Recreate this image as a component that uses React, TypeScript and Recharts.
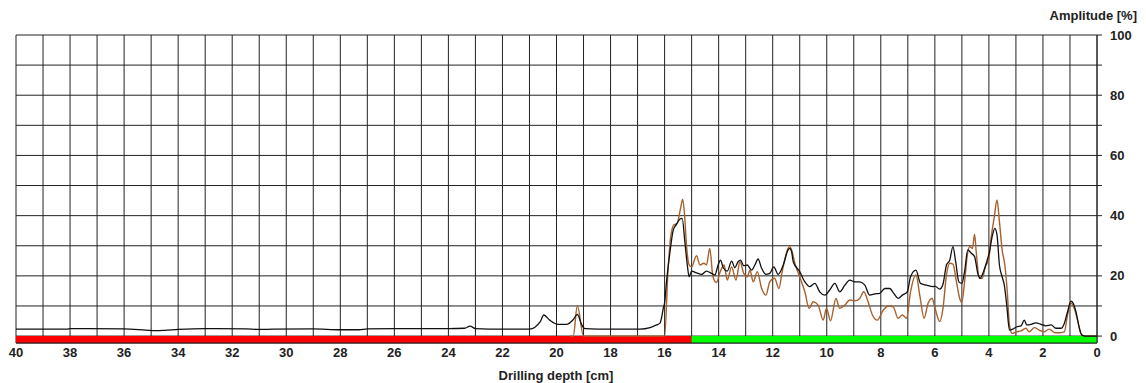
import React from 'react';
import { LineChart, Line, XAxis, YAxis, CartesianGrid, ReferenceArea } from 'recharts';

// depth in cm, amplitude in %
const blackDepth = [40, 38.1, 38, 36, 35.2, 34.8, 34.5, 34, 33, 31.5, 31, 30.5, 29, 28, 27.3, 27, 26, 24, 23.4, 23.2, 23, 22, 21,
  20.6, 20.47, 20.25, 19.94, 19.63, 19.38, 19.23, 19.07, 18.95, 18, 16.91, 16.54, 16.3, 16.17, 16.11, 16.05, 16.0, 15.93, 15.8,
  15.68, 15.56, 15.43, 15.35, 15.25, 15.16, 15.09, 15.0, 14.82, 14.63, 14.45, 14.26, 14.14, 14.02, 13.93, 13.83, 13.68, 13.52,
  13.4, 13.28, 13.19, 13.07, 12.94, 12.78, 12.66, 12.54, 12.41, 12.25, 12.11, 11.96, 11.8, 11.61, 11.43, 11.37, 11.3, 11.24,
  11.0, 10.81, 10.63, 10.44, 10.26, 10.07, 9.89, 9.7, 9.52, 9.33, 9.15, 8.96, 8.78, 8.59, 8.41, 8.22, 8.04, 7.85, 7.67, 7.52,
  7.36, 7.2, 7.02, 6.9, 6.7, 6.53, 6.31, 6.06, 6.0, 5.82, 5.7, 5.57, 5.45, 5.33, 5.23, 5.11, 5.0, 4.9, 4.78, 4.65, 4.53, 4.41,
  4.32, 4.2, 4.08, 3.98, 3.88, 3.78, 3.7, 3.61, 3.51, 3.43, 3.34, 3.24, 3.12, 2.97, 2.81, 2.69, 2.6, 2.44, 2.26, 2.07, 1.89,
  1.7, 1.52, 1.33, 1.21, 1.09, 0.96, 0.88, 0.78, 0.65, 0.56, 0.41, 0];
const blackAmp = [2.3, 2.3, 2.5, 2.4, 2.0, 1.8, 1.9, 2.2, 2.5, 2.4, 2.2, 2.3, 2.4, 2.1, 2.1, 2.4, 2.5, 2.5, 2.6, 3.3, 2.5, 2.3, 2.3,
  4.8, 7.0, 5.3, 3.9, 3.9, 5.5, 7.2, 3.8, 2.5, 2.3, 2.3, 2.8, 3.7, 4.3, 6.2, 9.2, 11, 18, 28,
  35.2, 37.1, 38.9, 39.1, 31.3, 23.6, 19.7, 21.6, 21.0, 20.5, 21.6, 20.8, 20.3, 23.6, 25.2, 22.7, 21.6, 24.9,
  22.7, 24.7, 25.2, 23.4, 23.6, 21.9, 23.6, 25.6, 22.5, 20.5, 20.8, 23.0, 20.5, 23.6, 28.6, 29.1, 28, 24.7,
  21.4, 18.0, 16.4, 17.5, 14.7, 13.6, 15.3, 17.5, 14.7, 16.9, 18.6, 18.0, 18.0, 16.9, 13.6, 14.0, 14.2, 15.8, 15.8, 14.2,
  12.5, 13.6, 14.7, 19.7, 21.9, 17.5, 16.9, 16.4, 16.6, 15.6, 17.2, 23.6, 25.2, 29.7, 24.7, 18.0, 17.5, 21.4, 28.6, 27.5, 26.4, 20.8,
  19.2, 21.4, 24.7, 28.0, 33.0, 35.8, 33.6, 23.6, 19.7, 16.9, 10.3, 2.0, 2.3, 3.1, 3.4, 5.3, 3.7, 3.9, 4.4, 3.9, 3.4,
  3.7, 2.6, 2.6, 4.2, 8.1, 11.6, 10.9, 8.1, 2.6, 0.3, 0, 0];

const brownDepth = [19.5, 19.38, 19.23, 19.0, 16.0, 15.87, 15.78, 15.66, 15.54, 15.41, 15.33, 15.26, 15.19, 15.09, 15.0, 14.82,
  14.69, 14.55, 14.45, 14.33, 14.21, 14.08, 13.95, 13.8, 13.68, 13.52, 13.36, 13.21, 13.07, 12.94, 12.84, 12.72, 12.57, 12.41,
  12.25, 12.11, 11.93, 11.77, 11.65, 11.43, 11.37, 11.3, 11.18, 11.0, 10.81, 10.65, 10.5, 10.32, 10.13, 10.01, 9.86, 9.66,
  9.52, 9.33, 9.15, 8.96, 8.78, 8.63, 8.47, 8.31, 8.13, 7.91, 7.72, 7.54, 7.36, 7.2, 7.05, 6.9, 6.7, 6.55, 6.4, 6.25, 6.1,
  6.0, 5.82, 5.7, 5.57, 5.45, 5.33, 5.2, 5.08, 5.0, 4.9, 4.8, 4.71, 4.61, 4.53, 4.47, 4.35, 4.25, 4.13, 4.0, 3.92, 3.8, 3.7,
  3.61, 3.51, 3.41, 3.32, 3.24, 3.14, 2.99, 2.81, 2.63, 2.51, 2.32, 2.14, 1.96, 1.77, 1.58, 1.4, 1.21, 1.09, 0.96, 0.84,
  0.72, 0.6, 0.47, 0];
const brownAmp = [0, 0, 10.1, 0, 0, 22.5, 32.5, 36.9, 37.4, 42.4, 45.5, 40.2, 30.2, 23.6, 23.0, 26.7,
  23.6, 24.2, 23.6, 29.1, 19.7, 17.8, 21.2, 23.6, 18.6, 23.0, 18.6, 24.7, 20.8, 19.7, 21.9, 18.0, 21.4, 15.8,
  13.6, 18.0, 19.2, 15.8, 21.4, 29.1, 29.7, 28.6, 24.2, 19.7, 14.7, 9.2, 11.4, 10.3, 5.3, 9.2, 5.1, 12.5,
  9.2, 10.3, 12.0, 11.7, 12.5, 14.7, 11.4, 7.0, 5.3, 8.6, 10.0, 9.7, 5.9, 7.0, 5.9, 14.7, 20.3, 13.1, 5.9, 10.9, 12.5,
  9.5, 4.8, 9.2, 20.3, 24.2, 23.9, 18.0, 12.5, 11.2, 18.0, 26.9, 29.7, 29.1, 33.8, 28.0, 19.2, 19.2, 23.0, 25.8, 32.5, 39.6, 45.2,
  38.0, 28.6, 23.6, 14.7, 3.7, 0.9, 1.4, 1.7, 2.6, 1.4, 2.8, 2.0, 1.4, 2.3, 1.2, 1.1, 1.4, 7.0, 10.9, 9.2,
  5.3, 0.9, 0, 0];

const xTicks = Array.from({ length: 41 }, (_, i) => i);
const yTicks = [0, 10, 20, 30, 40, 50, 60, 70, 80, 90, 100];

const blackData = blackDepth.map((d, i) => ({ depth: d, amp: blackAmp[i] }));
const brownData = brownDepth.map((d, i) => ({ depth: d, amp: brownAmp[i] }));

const font = 'Arial, "Liberation Sans", sans-serif';

export default function App() {
  return (
    <div style={{ position: 'relative', width: 1130, height: 375, fontFamily: font }}>
      <div style={{ position: 'absolute', right: 1, top: 0, fontSize: 13, fontWeight: 'bold', color: '#222', whiteSpace: 'nowrap' }}>
        Amplitude [%]
      </div>
      <LineChart width={1130} height={367} margin={{ top: 27, right: 0, bottom: 0, left: 8 }}>
        <CartesianGrid stroke="#222" strokeWidth={1} />
        <XAxis
          dataKey="depth"
          type="number"
          domain={[0, 40]}
          reversed
          ticks={xTicks}
          interval={0}
          tickFormatter={(v) => (v % 2 === 0 ? String(v) : '')}
          tickLine={false}
          tickSize={5}
          tickMargin={0}
          height={32}
          stroke="#222"
          tick={{ fill: '#222', fontSize: 13, fontWeight: 'bold', fontFamily: font }}
        />
        <YAxis
          orientation="right"
          type="number"
          domain={[-2.3, 100]}
          ticks={yTicks}
          interval={0}
          tickFormatter={(v) => (v % 20 === 0 ? String(v) : '')}
          width={41}
          tickSize={5}
          tickMargin={8}
          stroke="#222"
          tick={{ fill: '#222', fontSize: 13, fontWeight: 'bold', fontFamily: font }}
        />
        <ReferenceArea x1={40} x2={15} y1={-2.3} y2={0} fill="#ff0000" fillOpacity={1} stroke="none" />
        <ReferenceArea x1={15} x2={0} y1={-2.3} y2={0} fill="#00ff00" fillOpacity={1} stroke="none" />
        <Line data={brownData} dataKey="amp" type="monotone" stroke="#a8602c" strokeWidth={1.4} dot={false} isAnimationActive={false} />
        <Line data={blackData} dataKey="amp" type="monotone" stroke="#111" strokeWidth={1.3} dot={false} isAnimationActive={false} />
      </LineChart>
      <div style={{ position: 'absolute', left: 0, width: 1096, top: 360, textAlign: 'center', fontSize: 13, fontWeight: 'bold', color: '#222' }}>
        Drilling depth [cm]
      </div>
    </div>
  );
}
